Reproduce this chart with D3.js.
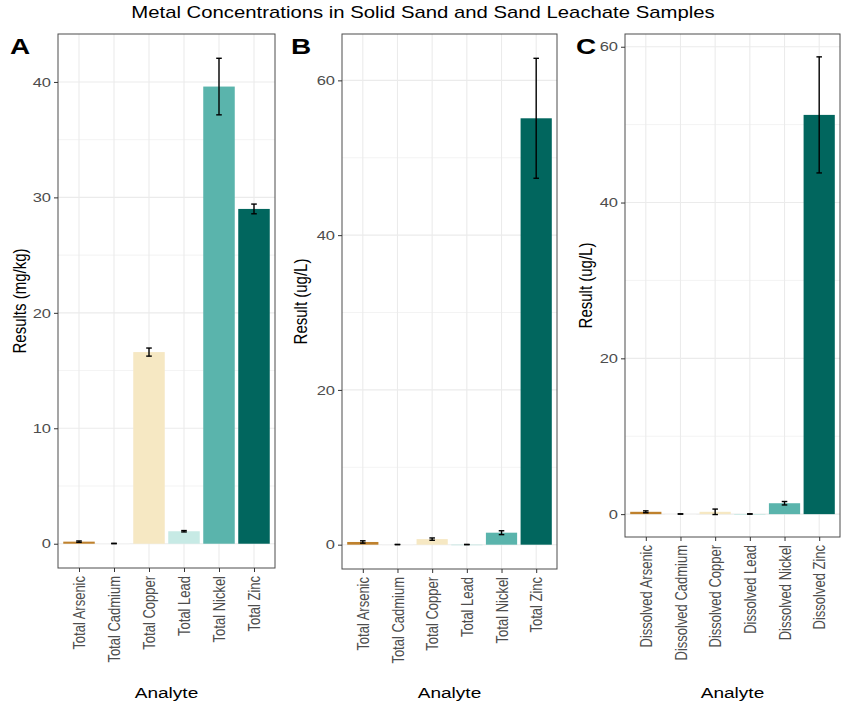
<!DOCTYPE html>
<html>
<head>
<meta charset="utf-8">
<script src="https://cdn.jsdelivr.net/npm/d3@7"></script>
<style>
  body { margin: 0; background: #fff; }
  text { font-family: "Liberation Sans", Arial, sans-serif; }
</style>
</head>
<body>
<div id="chart"></div>
<script>
var width = 846, height = 705;
// the reference looks stretched sideways, so text is widened a bit
var sx = 1.27;

// Data
const metals = ["Arsenic", "Cadmium", "Copper", "Lead", "Nickel", "Zinc"];
const colors = ["#BF812D", "#F5F5F5", "#F6E8C3", "#C7EAE5", "#5AB4AC", "#01665E"];

const labelsA = ["Total Arsenic", "Total Cadmium", "Total Copper", "Total Lead", "Total Nickel", "Total Zinc"];
const meanA = [0.18, 0.02, 16.6, 1.08, 39.6, 29.0];
const sdA = [0.06, 0.02, 0.35, 0.06, 2.45, 0.42];
const ticksA = [0, 10, 20, 30, 40];

const labelsB = ["Total Arsenic", "Total Cadmium", "Total Copper", "Total Lead", "Total Nickel", "Total Zinc"];
const meanB = [0.35, 0.02, 0.72, 0.02, 1.55, 55.1];
const sdB = [0.15, 0.02, 0.15, 0.02, 0.25, 7.75];
const ticksB = [0, 20, 40, 60];

const labelsC = ["Dissolved Arsenic", "Dissolved Cadmium", "Dissolved Copper", "Dissolved Lead", "Dissolved Nickel", "Dissolved Zinc"];
const meanC = [0.3, 0.02, 0.3, 0.02, 1.4, 51.25];
const sdC = [0.12, 0.02, 0.35, 0.02, 0.22, 7.45];
const ticksC = [0, 20, 40, 60];

const panels = [
  { tag: "A", ytitle: "Results (mg/kg)", labels: labelsA, mean: meanA, sd: sdA, ticks: ticksA,
    box: { left: 58, right: 275, top: 34, bottom: 568 }, tagX: 10, titleX: 19 },
  { tag: "B", ytitle: "Result (ug/L)", labels: labelsB, mean: meanB, sd: sdB, ticks: ticksB,
    box: { left: 342, right: 557, top: 34, bottom: 569 }, tagX: 291, titleX: 300 },
  { tag: "C", ytitle: "Result (ug/L)", labels: labelsC, mean: meanC, sd: sdC, ticks: ticksC,
    box: { left: 625, right: 840, top: 34, bottom: 537 }, tagX: 576, titleX: 585 }
];

const svg = d3.select("#chart")
  .append("svg")
  .attr("width", width)
  .attr("height", height);

function wideText(x, y, size, str) {
  return svg.append("text")
    .attr("transform", "translate(" + x + "," + y + ") scale(" + sx + ",1)")
    .style("font-size", size + "px")
    .attr("fill", "#000")
    .text(str);
}

wideText(423, 18, 16, "Metal Concentrations in Solid Sand and Sand Leachate Samples")
  .attr("text-anchor", "middle");

panels.forEach(function(p) {
  var b = p.box;
  var rows = p.labels.map(function(l, i) {
    return { label: l, mean: p.mean[i], sd: p.sd[i], color: colors[i] };
  });

  // ggplot-like expansion: 5% continuous, 0.6 units discrete
  var top = d3.max(rows, d => d.mean + d.sd);
  var pad = top * 0.05;
  var y = d3.scaleLinear().domain([-pad, top + pad]).range([b.bottom, b.top]);

  var n = rows.length;
  var unit = (b.right - b.left) / (n - 1 + 1.2);
  var x = d3.scalePoint().domain(p.labels).range([b.left + 0.6 * unit, b.right - 0.6 * unit]);

  var g = svg.append("g");

  // minor grid
  var step = p.ticks[1] - p.ticks[0];
  var minor = p.ticks.map(t => t + step / 2).filter(t => y(t) > b.top);
  g.selectAll(".minor")
    .data(minor)
    .join("line")
      .attr("x1", b.left).attr("x2", b.right)
      .attr("y1", d => y(d)).attr("y2", d => y(d))
      .attr("stroke", "#EBEBEB").attr("stroke-width", 0.6);

  // major grid
  g.selectAll(".majorY")
    .data(p.ticks)
    .join("line")
      .attr("x1", b.left).attr("x2", b.right)
      .attr("y1", d => y(d)).attr("y2", d => y(d))
      .attr("stroke", "#EBEBEB").attr("stroke-width", 1.1);
  g.selectAll(".majorX")
    .data(p.labels)
    .join("line")
      .attr("x1", d => x(d)).attr("x2", d => x(d))
      .attr("y1", b.top).attr("y2", b.bottom)
      .attr("stroke", "#EBEBEB").attr("stroke-width", 1.1);

  // bars
  var bw = 0.9 * unit;
  g.selectAll(".bar")
    .data(rows)
    .join("rect")
      .attr("x", d => x(d.label) - bw / 2)
      .attr("width", bw)
      .attr("y", d => y(d.mean))
      .attr("height", d => Math.max(y(0) - y(d.mean), 0.8))
      .attr("fill", d => d.color);

  // error bars
  var cw = 0.08 * unit;
  var eb = g.selectAll(".err")
    .data(rows)
    .join("g")
      .attr("stroke", "#000")
      .attr("stroke-width", 1.4);
  eb.append("line")
    .attr("x1", d => x(d.label)).attr("x2", d => x(d.label))
    .attr("y1", d => y(d.mean - d.sd)).attr("y2", d => y(d.mean + d.sd));
  eb.append("line")
    .attr("x1", d => x(d.label) - cw).attr("x2", d => x(d.label) + cw)
    .attr("y1", d => y(d.mean + d.sd)).attr("y2", d => y(d.mean + d.sd));
  eb.append("line")
    .attr("x1", d => x(d.label) - cw).attr("x2", d => x(d.label) + cw)
    .attr("y1", d => y(d.mean - d.sd)).attr("y2", d => y(d.mean - d.sd));

  // panel border
  g.append("rect")
    .attr("x", b.left).attr("y", b.top)
    .attr("width", b.right - b.left).attr("height", b.bottom - b.top)
    .attr("fill", "none").attr("stroke", "#4d4d4d").attr("stroke-width", 1);

  // axes
  var yAxis = d3.axisLeft(y).tickValues(p.ticks).tickSize(4).tickPadding(3);
  var ya = g.append("g").attr("transform", "translate(" + b.left + ",0)").call(yAxis);
  ya.select(".domain").remove();
  ya.selectAll("line").attr("stroke", "#333");
  ya.selectAll("text")
    .attr("fill", "#4D4D4D")
    .style("font-size", "13px")
    .attr("x", -7 / sx)
    .attr("transform", "scale(" + sx + ",1)");

  var xAxis = d3.axisBottom(x).tickSize(4).tickPadding(3);
  var xa = g.append("g").attr("transform", "translate(0," + b.bottom + ")").call(xAxis);
  xa.select(".domain").remove();
  xa.selectAll("line").attr("stroke", "#333");
  xa.selectAll("text")
    .attr("fill", "#4D4D4D")
    .style("font-size", "13px")
    .attr("transform", "scale(" + sx + ",1) rotate(-90)")
    .attr("text-anchor", "end")
    .attr("x", -8)
    .attr("y", 0)
    .attr("dy", "0.35em");

  // axis titles
  svg.append("text")
    .attr("transform", "translate(" + p.titleX + "," + ((b.top + b.bottom) / 2) + ") scale(" + sx + ",1) rotate(-90)")
    .attr("text-anchor", "middle")
    .attr("dy", "0.35em")
    .style("font-size", "15px")
    .text(p.ytitle);

  wideText((b.left + b.right) / 2, 698, 15, "Analyte")
    .attr("text-anchor", "middle");

  wideText(p.tagX, 54, 22, p.tag)
    .style("font-weight", "bold");
});
</script>
</body>
</html>
